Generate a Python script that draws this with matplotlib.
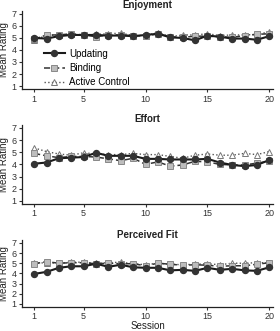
import matplotlib
matplotlib.use('Agg')
import matplotlib.pyplot as plt
import numpy as np

sessions = np.arange(1, 21)

# Enjoyment
enj_updating = [5.0, 4.95, 5.15, 5.25, 5.25, 5.25, 5.2, 5.2, 5.15, 5.25,
                5.35, 5.05, 5.0, 4.8, 5.2, 5.1, 4.95, 4.95, 4.85, 5.15]
enj_binding = [4.9, 5.25, 5.25, 5.35, 5.25, 5.1, 5.25, 5.25, 5.2, 5.15,
               5.35, 5.1, 5.05, 5.15, 5.15, 5.1, 5.05, 5.2, 5.3, 5.35]
enj_active = [4.85, 5.2, 5.25, 5.3, 5.25, 5.3, 5.35, 5.4, 5.2, 5.2,
              5.45, 5.1, 5.25, 5.25, 5.35, 5.2, 5.25, 5.25, 5.3, 5.5]

# Effort
eff_updating = [4.05, 4.15, 4.5, 4.55, 4.6, 4.95, 4.7, 4.7, 4.7, 4.45,
                4.45, 4.4, 4.4, 4.4, 4.45, 4.15, 3.95, 3.85, 3.95, 4.35]
eff_binding = [4.9, 4.7, 4.55, 4.65, 4.65, 4.6, 4.45, 4.3, 4.5, 4.0,
               4.2, 3.85, 3.95, 4.25, 4.2, 4.0, 3.95, 3.95, 4.1, 4.25]
eff_active = [5.35, 5.05, 4.85, 4.75, 4.95, 4.85, 4.8, 4.8, 4.9, 4.8,
              4.8, 4.65, 4.5, 4.75, 4.85, 4.75, 4.75, 4.9, 4.8, 5.05]

# Perceived Fit
fit_updating = [3.95, 4.15, 4.55, 4.7, 4.7, 4.95, 4.65, 4.85, 4.6, 4.55,
                4.55, 4.3, 4.35, 4.25, 4.55, 4.35, 4.45, 4.3, 4.25, 4.6]
fit_binding = [4.95, 5.15, 5.0, 5.05, 5.05, 4.95, 5.0, 4.95, 4.95, 4.75,
               5.0, 4.9, 4.8, 4.85, 4.8, 4.7, 4.75, 4.75, 4.9, 5.05]
fit_active = [5.0, 5.05, 5.0, 5.1, 5.1, 5.0, 5.05, 5.1, 4.95, 4.85,
              5.0, 4.9, 4.85, 4.9, 4.95, 4.85, 5.0, 5.0, 5.05, 5.05]

panels = [
    ('Enjoyment', enj_updating, enj_binding, enj_active),
    ('Effort', eff_updating, eff_binding, eff_active),
    ('Perceived Fit', fit_updating, fit_binding, fit_active),
]

# axes rectangles [left, bottom, width, height] in figure fraction
rects = [
    [0.079, 0.731, 0.896, 0.236],
    [0.079, 0.384, 0.896, 0.239],
    [0.079, 0.074, 0.896, 0.200],
]

plt.rcParams['font.family'] = ['Liberation Sans', 'DejaVu Sans']
fig = plt.figure(figsize=(2.8, 3.31), dpi=100)

for i, (title, upd, bnd, act) in enumerate(panels):
    ax = fig.add_axes(rects[i])
    ax.plot(sessions, act, ls=':', color='#555555', lw=1.0, marker='^',
            ms=5, mfc='white', mec='#777777', mew=0.7, label='Active Control', zorder=2)
    ax.plot(sessions, bnd, ls=(0, (4, 2)), color='#333333', lw=1.1, marker='s',
            ms=4.3, mfc='#bdbdbd', mec='#888888', mew=0.7, label='Binding', zorder=3)
    ax.plot(sessions, upd, ls='-', color='#1a1a1a', lw=1.5, marker='o',
            ms=4.3, mfc='#333333', mec='#333333', label='Updating', zorder=4)

    ax.set_xlim(0.03, 20.3)
    ax.set_ylim(0.75, 7.25)
    ax.set_xticks([1, 5, 10, 15, 20])
    ax.set_yticks(range(1, 8))
    ax.spines['top'].set_visible(False)
    ax.spines['right'].set_visible(False)
    for s in ('left', 'bottom'):
        ax.spines[s].set_linewidth(0.9)
        ax.spines[s].set_color('#222222')
    ax.tick_params(labelsize=6.5, length=2.5, width=0.8, pad=1.5, colors='#333333')
    ax.set_ylabel('Mean Rating', fontsize=7, labelpad=2, color='#222222')
    ax.set_title(title, fontsize=7, fontweight='bold', pad=2, color='#222222')
    if i == 2:
        ax.set_xlabel('Session', fontsize=7, labelpad=0, color='#222222')
    if i == 0:
        h, l = ax.get_legend_handles_labels()
        ax.legend(h[::-1], l[::-1], loc='lower left', bbox_to_anchor=(0.07, -0.03),
                  frameon=False, fontsize=7, handlelength=2.2,
                  labelspacing=0.45, borderaxespad=0.0, handletextpad=0.4)

fig.savefig('out.png', dpi=100)
